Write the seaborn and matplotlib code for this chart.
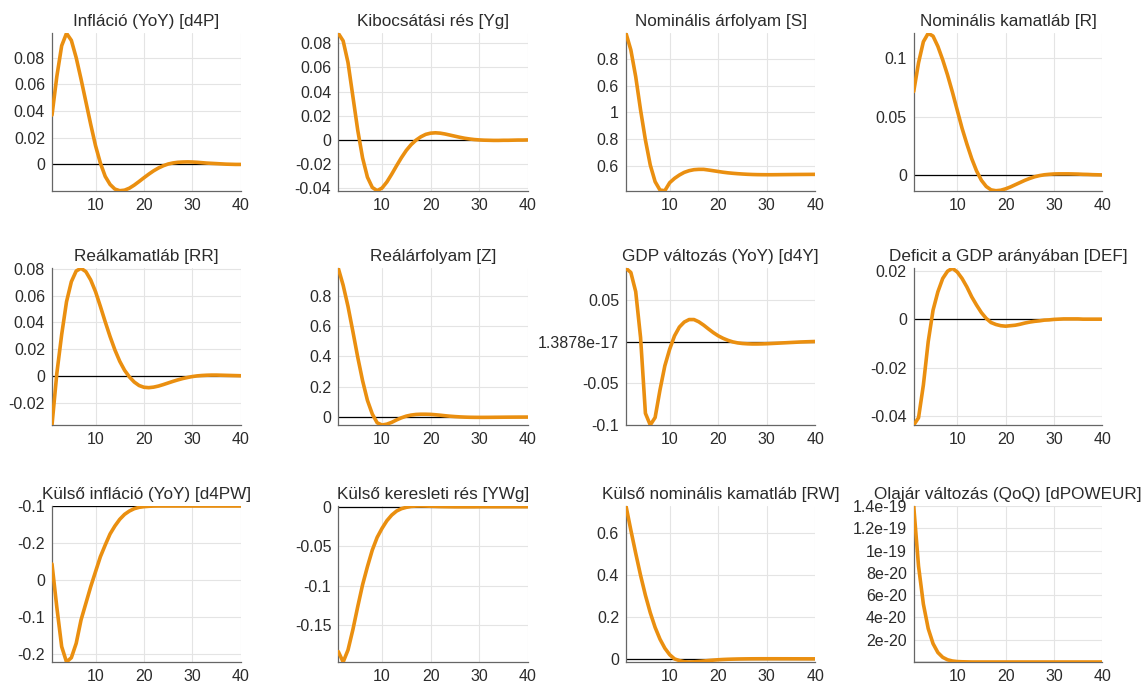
import numpy as np
import pandas as pd
import matplotlib
matplotlib.use("Agg")
import matplotlib.pyplot as plt
import seaborn as sns

# ---------------- data ----------------
periods = list(range(1, 41))

titles = [
    "Infláció (YoY) [d4P]", "Kibocsátási rés [Yg]", "Nominális árfolyam [S]", "Nominális kamatláb [R]",
    "Reálkamatláb [RR]", "Reálárfolyam [Z]", "GDP változás (YoY) [d4Y]", "Deficit a GDP arányában [DEF]",
    "Külső infláció (YoY) [d4PW]", "Külső keresleti rés [YWg]", "Külső nominális kamatláb [RW]",
    "Olajár változás (QoQ) [dPOWEUR]",
]

d4P = [0.037, 0.066, 0.089, 0.0983, 0.093, 0.080, 0.064, 0.047, 0.030, 0.014,
       0.001, -0.009, -0.015, -0.0185, -0.0197, -0.0193, -0.0178, -0.0155, -0.0128, -0.010,
       -0.0073, -0.0048, -0.0027, -0.001, 0.0003, 0.0011, 0.0016, 0.0018, 0.0019, 0.0018,
       0.0016, 0.0013, 0.0010, 0.0008, 0.0006, 0.0004, 0.0002, 0.0001, 0.0, 0.0]
Yg = [0.0883, 0.082, 0.064, 0.036, 0.008, -0.015, -0.031, -0.0395, -0.0422, -0.040,
      -0.035, -0.0285, -0.0215, -0.0148, -0.0088, -0.0040, -0.0003, 0.0025, 0.0045, 0.0055,
      0.0058, 0.0055, 0.0048, 0.0039, 0.0030, 0.0021, 0.0013, 0.0007, 0.0002, -0.0001,
      -0.0003, -0.0004, -0.0005, -0.0005, -0.0004, -0.0004, -0.0003, -0.0002, -0.0002, -0.0001]
S = [1.5925, 1.4675, 1.2675, 1.0175, 0.7925, 0.605, 0.48, 0.4175, 0.4125, 0.4725,
     0.505, 0.53, 0.55, 0.5625, 0.57, 0.5725, 0.5725, 0.5675, 0.562, 0.5565,
     0.551, 0.5465, 0.543, 0.540, 0.5375, 0.5355, 0.534, 0.533, 0.5325, 0.5322,
     0.5322, 0.5325, 0.533, 0.5333, 0.5337, 0.534, 0.5343, 0.5345, 0.5348, 0.535]
R = [0.0714, 0.096, 0.114, 0.1212, 0.1188, 0.110, 0.0985, 0.0855, 0.071, 0.0555,
     0.040, 0.0265, 0.0140, 0.0035, -0.0045, -0.0098, -0.0127, -0.0134, -0.0130, -0.0118,
     -0.0102, -0.0083, -0.0064, -0.0045, -0.0029, -0.0015, -0.0005, 0.0002, 0.0006, 0.0009,
     0.0010, 0.0010, 0.0010, 0.0009, 0.0008, 0.0006, 0.0005, 0.0003, 0.0002, 0.0001]
RR = [-0.0366, 0.002, 0.031, 0.0555, 0.0705, 0.0785, 0.0805, 0.078, 0.0718, 0.063,
      0.052, 0.0405, 0.0295, 0.0195, 0.011, 0.0043, -0.0007, -0.0045, -0.0071, -0.0084,
      -0.0087, -0.0083, -0.0075, -0.0064, -0.0052, -0.0040, -0.0029, -0.0019, -0.0011, -0.0004,
      0.0001, 0.0004, 0.0006, 0.0007, 0.0007, 0.0006, 0.0005, 0.0004, 0.0003, 0.0002]
Z = [0.982, 0.87, 0.73, 0.565, 0.395, 0.24, 0.11, 0.02, -0.038, -0.0526,
     -0.047, -0.035, -0.019, -0.005, 0.006, 0.013, 0.017, 0.0185, 0.0185, 0.0175,
     0.015, 0.012, 0.0085, 0.0055, 0.003, 0.001, -0.0005, -0.0015, -0.002, -0.0022,
     -0.0022, -0.002, -0.0017, -0.0014, -0.0011, -0.0008, -0.0006, -0.0004, -0.0003, -0.0002]
d4Y = [0.088, 0.083, 0.060, 0.005, -0.086, -0.100, -0.091, -0.058, -0.029, -0.009,
       0.007, 0.0175, 0.0235, 0.0265, 0.0265, 0.0238, 0.0198, 0.0152, 0.0108, 0.0070,
       0.0040, 0.0016, -0.0003, -0.0015, -0.0022, -0.0026, -0.0028, -0.0028, -0.0027, -0.0025,
       -0.0022, -0.0019, -0.0016, -0.0013, -0.0010, -0.0007, -0.0004, -0.0002, 0.0, 0.0002]
DEF = [-0.0437, -0.0407, -0.0272, -0.0093, 0.0037, 0.0113, 0.0168, 0.0198, 0.021, 0.0195,
       0.0168, 0.0133, 0.0092, 0.0058, 0.0027, 0.0003, -0.0014, -0.0022, -0.0027, -0.0029,
       -0.0027, -0.0025, -0.0021, -0.0016, -0.0012, -0.0009, -0.0007, -0.0004, -0.0003, -0.0001,
       0.0, 0.0001, 0.0001, 0.0001, 0.0001, 0.0, 0.0, 0.0, 0.0, 0.0]
d4PW = [-0.0784, -0.137, -0.190, -0.2108, -0.205, -0.1856, -0.154, -0.1315, -0.109, -0.0887,
        -0.0685, -0.0527, -0.0378, -0.027, -0.018, -0.0113, -0.0068, -0.0036, -0.0018, -0.0009,
        -0.0004, -0.0001, 0.0, 0.0, 0.0, 0.0, 0.0, 0.0, 0.0, 0.0,
        0.0, 0.0, 0.0, 0.0, 0.0, 0.0, 0.0, 0.0, 0.0, 0.0]
YWg = [-0.1838, -0.197, -0.1817, -0.156, -0.1268, -0.099, -0.076, -0.055, -0.0389, -0.0275,
       -0.0178, -0.0106, -0.0055, -0.0025, -0.0008, 0.0004, 0.0008, 0.0009, 0.0008, 0.0006,
       0.0004, 0.0002, 0.0001, 0.0, -0.0001, -0.0001, -0.0001, -0.0001, -0.0001, 0.0,
       0.0, 0.0, 0.0, 0.0, 0.0, 0.0, 0.0, 0.0, 0.0, 0.0]
RW = [0.73, 0.615, 0.505, 0.40, 0.305, 0.222, 0.152, 0.096, 0.053, 0.022,
      0.002, -0.006, -0.0115, -0.0127, -0.012, -0.0102, -0.008, -0.0058, -0.0038, -0.002,
      -0.0007, 0.0003, 0.001, 0.0016, 0.002, 0.0023, 0.0025, 0.0026, 0.0027, 0.0027,
      0.0027, 0.0027, 0.0026, 0.0026, 0.0025, 0.0025, 0.0024, 0.0024, 0.0023, 0.0023]
dPOWEUR = [1.4e-19, 0.86e-19, 0.52e-19, 0.30e-19, 0.165e-19, 0.085e-19, 0.042e-19, 0.02e-19,
           0.009e-19, 0.004e-19, 0.002e-19, 0.001e-19] + [0.0] * 28

series = [d4P, Yg, S, R, RR, Z, d4Y, DEF, d4PW, YWg, RW, dPOWEUR]

# tick values and labels (as displayed)
yticks = [
    [0, 0.02, 0.04, 0.06, 0.08],
    [-0.04, -0.02, 0, 0.02, 0.04, 0.06, 0.08],
    [0.6, 0.8, 1.0, 1.2, 1.4],
    [0, 0.05, 0.1],
    [-0.02, 0, 0.02, 0.04, 0.06, 0.08],
    [0, 0.2, 0.4, 0.6, 0.8],
    [-0.1, -0.05, 1.3878e-17, 0.05],
    [-0.04, -0.02, 0, 0.02],
    [-0.2, -0.15, -0.1, -0.05, 0],
    [-0.15, -0.1, -0.05, 0],
    [0, 0.2, 0.4, 0.6],
    [2e-20, 4e-20, 6e-20, 8e-20, 1e-19, 1.2e-19, 1.4e-19],
]
ytick_labels = [
    ["0", "0.02", "0.04", "0.06", "0.08"],
    ["-0.04", "-0.02", "0", "0.02", "0.04", "0.06", "0.08"],
    ["0.6", "0.8", "1", "0.6", "0.8"],
    ["0", "0.05", "0.1"],
    ["-0.02", "0", "0.02", "0.04", "0.06", "0.08"],
    ["0", "0.2", "0.4", "0.6", "0.8"],
    ["-0.1", "-0.05", "1.3878e-17", "0.05"],
    ["-0.04", "-0.02", "0", "0.02"],
    ["-0.2", "-0.1", "0", "-0.2", "-0.1"],
    ["-0.15", "-0.1", "-0.05", "0"],
    ["0", "0.2", "0.4", "0.6"],
    ["2e-20", "4e-20", "6e-20", "8e-20", "1e-19", "1.2e-19", "1.4e-19"],
]
xticks = [10, 20, 30, 40]
show_zero_line = [True, True, False, True, True, True, True, True, True, True, True, True]

# ---------------- style ----------------
sns.set_theme(style="whitegrid")
plt.rcParams["font.family"] = ["Liberation Sans", "DejaVu Sans"]
LINE = "#EA8F10"
AXC = "#666666"
TXT = "#2b2b2b"

fig = plt.figure(figsize=(11.47, 6.88), dpi=100)
W, H = 1147.0, 688.0
col_lr = [(52, 240.7), (338.3, 527.7), (626, 815.3), (913.7, 1102.3)]
row_tb = [(33.3, 190.7), (268.3, 425), (506, 662)]

for i, (title, vals) in enumerate(zip(titles, series)):
    r, c = divmod(i, 4)
    l, rr = col_lr[c]
    t, b = row_tb[r]
    ax = fig.add_axes([l / W, (H - b) / H, (rr - l) / W, (b - t) / H])
    df = pd.DataFrame({"t": periods, "v": vals})
    if show_zero_line[i]:
        ax.plot([periods[0], periods[-1]], [0, 0], color="black", lw=0.9, zorder=2)
    sns.lineplot(data=df, x="t", y="v", ax=ax, color=LINE, lw=2.6, zorder=3)
    vmin, vmax = min(vals), max(vals)
    ax.set_ylim(vmin, vmax)
    ax.set_xlim(periods[0], periods[-1])
    ax.set_xticks(xticks)
    ax.set_xticklabels([str(x) for x in xticks])
    ax.set_yticks(yticks[i])
    ax.set_yticklabels(ytick_labels[i])
    ax.set_xlabel("")
    ax.set_ylabel("")
    ax.set_title(title, fontsize=12.3, color=TXT, pad=5)
    ax.grid(True, color="#e4e4e4", lw=0.8)
    ax.set_facecolor("white")
    for side in ["top", "right"]:
        ax.spines[side].set_visible(False)
    for side in ["left", "bottom"]:
        ax.spines[side].set_visible(True)
        ax.spines[side].set_color(AXC)
        ax.spines[side].set_linewidth(0.9)
    ax.tick_params(axis="both", direction="in", length=3, width=0.8, color=AXC,
                   labelsize=11.5, labelcolor=TXT, pad=5)
    ax.margins(0)

fig.savefig("out.png", dpi=100, facecolor="white")
